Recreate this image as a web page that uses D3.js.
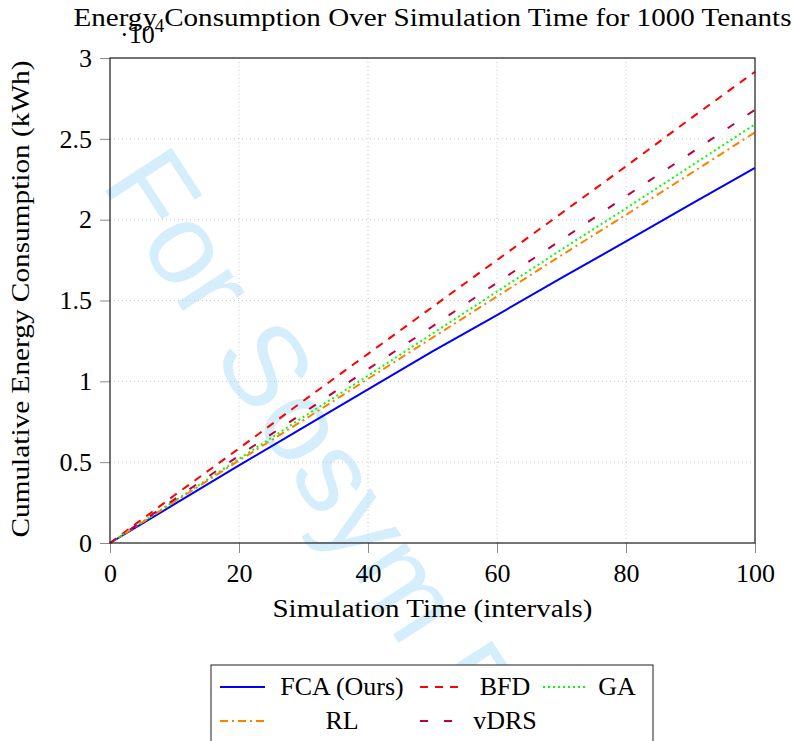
<!DOCTYPE html>
<html>
<head>
<meta charset="utf-8">
<script src="https://cdn.jsdelivr.net/npm/d3@7"></script>
<style>
  body { margin: 0; background: #fff; }
  svg text { font-family: "Liberation Serif", "Times New Roman", serif; }
</style>
</head>
<body>
<div id="chart"></div>
<script>
// simulation time (intervals)
const times = [0, 10, 20, 30, 40, 50, 60, 70, 80, 90, 100];

// cumulative energy (kWh)
const fca  = [0, 2400, 4800, 7150, 9500, 11850, 14100, 16400, 18650, 20950, 23200];
const bfd  = [0, 2950, 5850, 8800, 11700, 14600, 17500, 20400, 23300, 26250, 29150];
const ga   = [0, 2600, 5200, 7800, 10350, 12950, 15550, 18150, 20700, 23300, 25900];
const rl   = [0, 2550, 5100, 7600, 10150, 12700, 15250, 17800, 20300, 22850, 25400];
const vdrs = [0, 2700, 5400, 8050, 10750, 13400, 16100, 18750, 21450, 24100, 26800];

const seriesNames = ["FCA (Ours)", "BFD", "GA", "RL", "vDRS"];
const xTicks = [0, 20, 40, 60, 80, 100];
const yTicks = [0, 5000, 10000, 15000, 20000, 25000, 30000];

const styles = {
	"FCA (Ours)": {color: "#0000ff", dash: null},
	"BFD": {color: "#ff0000", dash: "8,7"},
	"GA": {color: "#00ff00", dash: "2,3"},
	"RL": {color: "#ff8000", dash: "8,4,2,4"},
	"vDRS": {color: "#bf0040", dash: "8,16"}
};

const series = [fca, bfd, ga, rl, vdrs].map((vals, i) => ({
	name: seriesNames[i],
	points: vals.map((v, j) => ({t: times[j], e: v}))
}));

let width = 792;
let height = 741;
let plot = {"left": 110, "right": 755, "top": 58, "bottom": 543};

const svg = d3.select("#chart")
	.append("svg")
	.attr("width", width)
	.attr("height", height);

// watermark sits under everything
svg.append("text")
	.attr("transform", "translate(100,183) rotate(57)")
	.style("font-family", "'Liberation Sans', Arial, sans-serif")
	.style("font-size", "115px")
	.attr("fill", "#d4eefb")
	.text("For Sosym Review");

const x = d3.scaleLinear().domain([0, 100]).range([plot.left, plot.right]);
const y = d3.scaleLinear().domain([0, 30000]).range([plot.bottom, plot.top]);

// grid
svg.append("g")
	.selectAll("line")
	.data(xTicks.slice(1, -1))
	.enter()
	.append("line")
	.attr("x1", d => x(d)).attr("x2", d => x(d))
	.attr("y1", plot.top).attr("y2", plot.bottom)
	.attr("stroke", "#c8c8c8")
	.attr("stroke-dasharray", "1,3");
svg.append("g")
	.selectAll("line")
	.data(yTicks.slice(1, -1))
	.enter()
	.append("line")
	.attr("y1", d => y(d)).attr("y2", d => y(d))
	.attr("x1", plot.left).attr("x2", plot.right)
	.attr("stroke", "#c8c8c8")
	.attr("stroke-dasharray", "1,3");

// axes
const xAxis = svg.append("g")
	.attr("transform", "translate(0," + plot.bottom + ")")
	.call(d3.axisBottom(x).tickValues(xTicks).tickSize(10).tickPadding(11).tickFormat(d => d));
const yAxis = svg.append("g")
	.attr("transform", "translate(" + plot.left + ",0)")
	.call(d3.axisLeft(y).tickValues(yTicks).tickSize(10).tickPadding(8).tickFormat(d => String(d / 10000)));

[xAxis, yAxis].forEach(ax => {
	ax.select(".domain").remove();
	ax.selectAll(".tick line").attr("stroke", "#8a8a8a");
	ax.selectAll(".tick text")
		.attr("fill", "#000")
		.style("font-family", "'Liberation Serif', serif")
		.style("font-size", "26px");
});

// lines
const line = d3.line().x(d => x(d.t)).y(d => y(d.e));
svg.append("g")
	.selectAll("path")
	.data(series)
	.enter()
	.append("path")
	.attr("d", d => line(d.points))
	.attr("fill", "none")
	.attr("stroke", d => styles[d.name].color)
	.attr("stroke-width", 2)
	.attr("stroke-dasharray", d => styles[d.name].dash);

// frame
svg.append("rect")
	.attr("x", plot.left).attr("y", plot.top)
	.attr("width", plot.right - plot.left)
	.attr("height", plot.bottom - plot.top)
	.attr("fill", "none")
	.attr("stroke", "#2a2a2a")
	.attr("stroke-width", 1.3);

// exponent label
const expo = svg.append("text")
	.attr("x", 120).attr("y", 43)
	.style("font-size", "26px");
expo.append("tspan").text("\u00b710");
expo.append("tspan").attr("dy", -11).style("font-size", "19px").text("4");

// title and axis labels
svg.append("text")
	.attr("x", (plot.left + plot.right) / 2).attr("y", 26)
	.attr("text-anchor", "middle")
	.attr("textLength", 718).attr("lengthAdjust", "spacingAndGlyphs")
	.style("font-size", "25px")
	.text("Energy Consumption Over Simulation Time for 1000 Tenants");
svg.append("text")
	.attr("x", (plot.left + plot.right) / 2).attr("y", 617)
	.attr("text-anchor", "middle")
	.attr("textLength", 320).attr("lengthAdjust", "spacingAndGlyphs")
	.style("font-size", "26px")
	.text("Simulation Time (intervals)");
svg.append("text")
	.attr("transform", "translate(29,299) rotate(-90)")
	.attr("text-anchor", "middle")
	.attr("textLength", 477).attr("lengthAdjust", "spacingAndGlyphs")
	.style("font-size", "26px")
	.text("Cumulative Energy Consumption (kWh)");

// legend, 3 columns, text centred in its cell
const legendOrder = ["FCA (Ours)", "BFD", "GA", "RL", "vDRS"];
const colSample = [220, 420, 543];
const colText = [342, 505, 617];
const rowY = [687, 721];

const legend = svg.append("g");
legend.append("rect")
	.attr("x", 211).attr("y", 665)
	.attr("width", 442).attr("height", 100)
	.attr("fill", "#fff")
	.attr("stroke", "#444")
	.attr("stroke-width", 1.2);

const items = legend.selectAll(".item")
	.data(legendOrder)
	.enter()
	.append("g")
	.attr("class", "item")
	.attr("transform", (d, i) => "translate(0," + rowY[Math.floor(i / 3)] + ")");
items.append("line")
	.attr("x1", (d, i) => colSample[i % 3])
	.attr("x2", (d, i) => colSample[i % 3] + (i % 3 == 2 ? 44 : 45))
	.attr("stroke", d => styles[d].color)
	.attr("stroke-width", 2)
	.attr("stroke-dasharray", d => styles[d].dash);
items.append("text")
	.attr("x", (d, i) => colText[i % 3])
	.attr("y", 8)
	.attr("text-anchor", "middle")
	.style("font-size", "26px")
	.text(d => d);
</script>
</body>
</html>
